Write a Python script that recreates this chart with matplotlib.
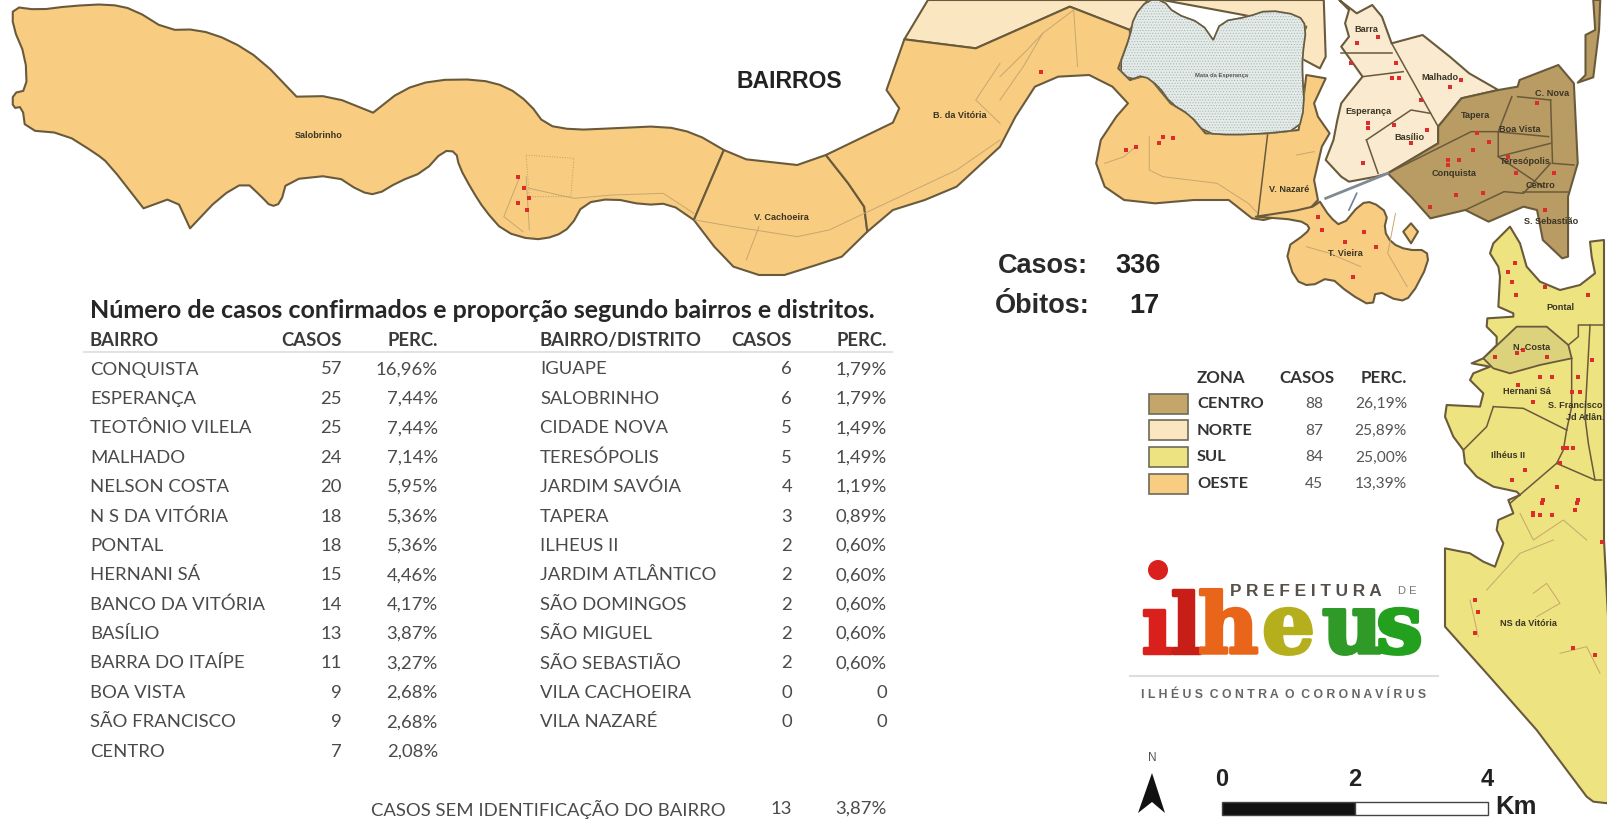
import numpy as np
from matplotlib import pyplot as plt
from matplotlib.patches import Polygon, Rectangle, Circle
import matplotlib.patheffects as pe

W, H = 1608, 819

# crop coordinates -> picture pixels
def z1(p):
    return np.array(p, float) / [2.579, 3] + [1000, 0]

def z2(p):
    return np.array(p, float) / 3 + [1120, 340]

def z3(p):
    return np.array(p, float) / [1.568, 3]

def z4(p):
    return np.array(p, float) / 3 + [1400, 210]

# rounds the corners of an outline, a doubled vertex stays sharp
def suaviza(p):
    q = np.roll(p, -1, axis=0)
    return np.column_stack([0.75 * p + 0.25 * q, 0.25 * p + 0.75 * q]).reshape(-1, 2)

# table data
bairro1 = ["CONQUISTA", "ESPERANÇA", "TEOTÔNIO VILELA", "MALHADO", "NELSON COSTA", "N S DA VITÓRIA", "PONTAL",
           "HERNANI SÁ", "BANCO DA VITÓRIA", "BASÍLIO", "BARRA DO ITAÍPE", "BOA VISTA", "SÃO FRANCISCO", "CENTRO"]
casos1 = [57, 25, 25, 24, 20, 18, 18, 15, 14, 13, 11, 9, 9, 7]
perc1 = ["16,96%", "7,44%", "7,44%", "7,14%", "5,95%", "5,36%", "5,36%", "4,46%", "4,17%", "3,87%", "3,27%",
         "2,68%", "2,68%", "2,08%"]
bairro2 = ["IGUAPE", "SALOBRINHO", "CIDADE NOVA", "TERESÓPOLIS", "JARDIM SAVÓIA", "TAPERA", "ILHEUS II",
           "JARDIM ATLÂNTICO", "SÃO DOMINGOS", "SÃO MIGUEL", "SÃO SEBASTIÃO", "VILA CACHOEIRA", "VILA NAZARÉ"]
casos2 = [6, 6, 5, 5, 4, 3, 2, 2, 2, 2, 2, 0, 0]
perc2 = ["1,79%", "1,79%", "1,49%", "1,49%", "1,19%", "0,89%", "0,60%", "0,60%", "0,60%", "0,60%", "0,60%", "0", "0"]

zonas = ["CENTRO", "NORTE", "SUL", "OESTE"]
zona_casos = [88, 87, 84, 45]
zona_perc = ["26,19%", "25,89%", "25,00%", "13,39%"]
zona_cor = ["#C4A56A", "#FBE6C2", "#EDE380", "#F8CD82"]

# map outlines
salobrinho = z3([(20, 20), (60, 30), (110, 18), (170, 12), (210, 28), (262, 90), (310, 88), (360, 120), (410, 180),
                 (465, 290), (465, 290), (520, 288), (585, 338), (585, 338), (630, 270), (680, 240), (750, 238),
                 (795, 260), (830, 310), (855, 375), (900, 390), (960, 385), (1040, 378), (1090, 400), (1135, 450),
                 (1135, 450), (1088, 660), (1088, 660), (1050, 610), (1010, 615), (960, 595), (915, 610), (895, 680),
                 (870, 710), (835, 720), (790, 695), (760, 630), (740, 570), (720, 500), (715, 455), (695, 452),
                 (665, 515), (625, 545), (590, 585), (565, 575), (525, 525), (450, 540), (440, 610), (425, 620),
                 (410, 590), (385, 545), (345, 590), (298, 685), (298, 685), (275, 590), (225, 625), (225, 625),
                 (170, 490), (150, 460), (100, 400), (40, 390), (35, 320), (20, 325), (20, 280), (42, 270),
                 (40, 170), (20, 80)])
cachoeira = z3([(1135, 450), (1170, 478), (1250, 495), (1295, 465), (1330, 550), (1355, 620), (1360, 695),
                (1320, 770), (1280, 795), (1230, 825), (1190, 825), (1150, 800), (1120, 740), (1088, 660)])
banco = np.vstack([
    z3([(1295, 465), (1400, 368), (1410, 325), (1390, 270), (1418, 118), (1530, 145)]),
    z1([(180, 20), (335, 90), (335, 110), (305, 205), (335, 240), (380, 225), (440, 310), (490, 345), (530, 400),
        (690, 400), (770, 390), (780, 320), (790, 225), (840, 235), (810, 310), (820, 350), (850, 400), (830, 440),
        (810, 540), (820, 600), (800, 625), (680, 660), (650, 655), (590, 600), (500, 600), (400, 610), (320, 600),
        (270, 560), (248, 490), (260, 420), (300, 350), (330, 310), (290, 260), (230, 225), (150, 230), (90, 260),
        (40, 350), (0, 440)]),
    z3([(1500, 560), (1450, 600), (1400, 630), (1360, 695), (1355, 620), (1330, 550)])])
vieira = z1([(660, 650), (660, 650), (800, 625), (825, 605), (825, 605), (850, 650), (880, 680), (930, 610),
             (960, 605), (1000, 640), (990, 690), (1010, 730), (1050, 750), (1100, 750), (1105, 790), (1060, 890),
             (1030, 905), (970, 870), (960, 920), (900, 880), (850, 830), (800, 860), (760, 840), (735, 745),
             (790, 700), (800, 680), (770, 660)])
ilhota = z1([(1060, 670), (1078, 695), (1060, 730), (1040, 695)])
norte_topo = np.vstack([
    z3([(1455, 0), (1418, 118), (1530, 145)]),
    z1([(180, 20), (335, 90), (380, 0), (420, 0), (835, 0), (840, 170), (825, 205), (760, 165), (790, 80), (420, 0)])])
mata = z1([(380, 0), (345, 50), (335, 110), (305, 205), (335, 240), (370, 225), (410, 260), (440, 310), (490, 345),
           (530, 400), (600, 405), (690, 400), (770, 390), (785, 320), (780, 225), (780, 170), (790, 80), (770, 45),
           (690, 30), (640, 50), (570, 65), (550, 120), (550, 120), (520, 70), (450, 40), (420, 0)])
norte = z1([(875, 0), (920, 40), (960, 15), (985, 50), (1010, 130), (1090, 105), (1160, 170), (1210, 220),
            (1285, 270), (1190, 295), (1130, 380), (1130, 430), (1000, 520), (970, 530), (900, 545), (880, 530),
            (840, 480), (860, 420), (870, 360), (880, 310), (900, 280), (935, 230), (880, 140), (900, 110),
            (890, 70), (900, 30)])
centro = z1([(1285, 270), (1335, 260), (1340, 240), (1440, 195), (1480, 250), (1490, 490), (1465, 590), (1465, 770),
             (1450, 775), (1400, 720), (1385, 630), (1350, 620), (1260, 665), (1200, 630), (1110, 655), (1060, 590),
             (1000, 520), (1130, 430), (1130, 380), (1190, 295)])
centro_faixa = z1([(1530, 0), (1535, 90), (1510, 105), (1510, 225), (1490, 248), (1530, 232), (1545, 90), (1548, 0)])
sul = np.vstack([
    z4([(330, 50), (360, 100), (380, 170), (420, 215), (480, 240), (540, 225), (585, 190), (575, 140), (570, 95),
        (612, 90), (612, 990)]),
    z2([(1464, 830), (1464, 1390), (1420, 1385), (1400, 1370), (1250, 1170), (1100, 1000), (975, 860), (975, 625),
        (1050, 640), (1090, 665), (1125, 680), (1150, 610), (1130, 570), (1135, 540), (1180, 520), (1165, 480),
        (1200, 465)]),
    z4([(350, 845), (280, 830), (230, 800), (195, 760), (190, 720), (160, 680), (135, 620), (140, 585), (240, 590),
        (250, 550), (210, 510), (220, 490), (270, 470), (215, 460), (250, 445), (290, 405), (290, 380), (260, 350),
        (262, 325), (340, 320), (340, 310), (295, 290), (300, 200), (295, 170), (270, 130), (280, 100)])])
nelson = z4([(250, 445), (350, 350), (440, 350), (505, 405), (515, 445), (420, 465), (330, 490), (280, 475)])

divisas = [
    z1([(690, 405), (665, 650)]),
    z1([(1000, 520), (1215, 395), (1280, 395), (1415, 410)]),
    z1([(1320, 290), (1285, 395), (1285, 470), (1400, 560)]),
    z1([(1420, 300), (1425, 490), (1480, 495)]),
    z1([(1335, 290), (1420, 300)]),
    z1([(1285, 470), (1420, 430)]),
    z1([(1420, 490), (1350, 580), (1300, 575), (1200, 630)]),
    z1([(1465, 575), (1350, 575)]),
    z1([(1010, 130), (1130, 380)]),
    z1([(880, 160), (1010, 160)]),
    z1([(935, 230), (1040, 215)]),
    z1([(945, 420), (1060, 330), (1110, 340)]),
    z1([(945, 420), (975, 520)]),
    z4([(505, 405), (535, 380), (535, 345), (610, 345)]),
    z4([(515, 445), (515, 590), (500, 660)]),
    z4([(280, 590), (370, 595), (500, 660)]),
    z4([(190, 720), (260, 650), (280, 590)]),
    z4([(500, 660), (490, 720), (470, 760), (330, 880)]),
    z4([(470, 760), (585, 810), (605, 810)]),
    z4([(555, 620), (565, 700), (585, 810)]),
    z4([(570, 345), (555, 620)]),
]
estradas = [
    z3([(1090, 660), (1150, 680), (1250, 710), (1300, 690), (1400, 600), (1500, 510), (1568, 420)]),
    z3([(830, 565), (900, 595), (960, 585), (1040, 580), (1088, 640)]),
    z3([(1190, 680), (1170, 780)]),
    z3([(815, 530), (790, 650), (820, 695)]),
    z3([(825, 530), (830, 690)]),
    z3([(1568, 190), (1530, 300), (1568, 370)]),
    z1([(385, 410), (385, 510), (420, 530), (560, 550), (640, 610), (665, 640)]),
    z1([(0, 230), (70, 150), (110, 100), (190, 30), (200, 200)]),
    z1([(110, 100), (60, 200), (0, 300)]),
    z1([(270, 490), (320, 470), (350, 440)]),
    z1([(765, 465), (810, 455)]),
    z1([(1020, 640), (1000, 760), (1050, 860)]),
    z1([(790, 740), (850, 760), (930, 800)]),
    z2([(1100, 750), (1200, 640), (1300, 600)]),
    z2([(1050, 780), (1075, 890)]),
    z2([(1240, 760), (1280, 730), (1320, 790), (1250, 830)]),
    z2([(1320, 940), (1400, 920), (1440, 1000)]),
    z2([(1200, 520), (1240, 600), (1330, 540), (1400, 600)]),
]
pontilhado = z3([(825, 465), (900, 475), (895, 590), (830, 590), (825, 465)])

casos_pts = np.vstack([
    z3([(812, 530), (822, 565), (830, 593), (812, 610), (827, 630)]),
    z1([(105, 215), (325, 450), (350, 440), (420, 410), (410, 430), (445, 415), (905, 190), (950, 370), (950, 385),
        (1020, 190), (1010, 235), (1030, 235), (1160, 260), (1190, 240), (1085, 300), (1100, 390), (1060, 430),
        (1015, 375), (935, 490), (920, 130), (975, 110), (1155, 480), (1155, 495), (1245, 580), (1175, 585),
        (1110, 620), (1230, 400), (1310, 470), (1330, 520), (1385, 310), (1405, 630), (1430, 520), (890, 725),
        (910, 830), (970, 740), (820, 650), (940, 695), (830, 690), (1220, 450), (1260, 425), (1185, 480)]),
    z4([(345, 160), (325, 185), (335, 215), (348, 255), (435, 230), (565, 255), (370, 420), (350, 430), (285, 440),
        (440, 440), (455, 500), (420, 500), (355, 525), (400, 575), (515, 545), (540, 545), (535, 500), (575, 450),
        (490, 715), (520, 715), (480, 760), (430, 870), (420, 915), (400, 915), (455, 915), (470, 830), (525, 900),
        (535, 870), (375, 780), (335, 810)]),
    z2([(1065, 780), (1075, 815), (1065, 880), (1360, 925), (1425, 945), (1360, 325), (1340, 325), (1265, 490),
        (1240, 520), (1295, 525), (1370, 490), (1445, 605)]),
])

# place labels: text, x, y
rotulos = [("Salobrinho", 319, 135), ("B. da Vitória", 960, 115), ("V. Cachoeira", 781, 217),
           ("V. Nazaré", 1289, 190), ("T. Vieira", 1345, 254), ("Barra", 1366, 29), ("Malhado", 1440, 78),
           ("Esperança", 1368, 111), ("Basílio", 1409, 137), ("Tapera", 1476, 115), ("C. Nova", 1552, 94),
           ("Boa Vista", 1520, 129), ("Teresópolis", 1525, 161), ("Conquista", 1454, 173), ("Centro", 1541, 186),
           ("S. Sebastião", 1551, 222), ("Pontal", 1560, 307), ("N. Costa", 1532, 347), ("Hernani Sá", 1527, 392),
           ("S. Francisco", 1575, 405), ("Jd Atlân.", 1585, 418), ("Ilhéus II", 1508, 456),
           ("NS da Vitória", 1528, 623)]

# logo letters: letter, x, colour
logo = [("ı", 1141, "#D9201C"), ("l", 1170, "#C81E18"), ("h", 1198, "#E8651A"), ("e", 1262, "#B5AF1E"),
        ("u", 1322, "#2F9A28"), ("s", 1376, "#22A01E")]

plt.rcParams['font.family'] = ['Lato', 'DejaVu Sans']
plt.rcParams['hatch.linewidth'] = 0.5
fig = plt.figure(figsize=(W / 100, H / 100), dpi=100)
ax = fig.add_axes([0, 0, 1, 1])
ax.set_xlim(0, W)
ax.set_ylim(H, 0)
ax.axis("off")

OUT = "#6A5A3C"
OESTE, NORTE, SUL, CENTRO = zona_cor[3], zona_cor[1], zona_cor[2], "#B99C64"
for pts, cor in [(norte_topo, NORTE), (suaviza(salobrinho), OESTE), (cachoeira, OESTE), (banco, OESTE),
                 (suaviza(vieira), OESTE), (ilhota, OESTE), (norte, "#FAEBD0"), (centro, CENTRO),
                 (centro_faixa, CENTRO), (sul, SUL)]:
    ax.add_patch(Polygon(pts, closed=True, fc=cor, ec=OUT, lw=1.5, joinstyle="round", zorder=2))
ax.add_patch(Polygon(nelson, closed=True, fc="#DDD27C", ec=OUT, lw=1.3, zorder=2.5))
ax.add_patch(Polygon(suaviza(mata), closed=True, fc="#E4ECE9", ec="#AEB8B3", hatch="......", lw=1.2, zorder=3))
ax.add_patch(Polygon(suaviza(mata), closed=True, fc="none", ec=OUT, lw=1.2, zorder=3.1))

for linha in estradas:
    ax.plot(linha[:, 0], linha[:, 1], color="#C7A670", lw=0.7, zorder=3.2)
ax.plot(pontilhado[:, 0], pontilhado[:, 1], color="#C09A68", lw=0.7, ls=":", zorder=3.2)
for linha in divisas:
    ax.plot(linha[:, 0], linha[:, 1], color=OUT, lw=1.1, zorder=3.3)
canal = z1([(840, 595), (1000, 520)])
ax.plot(canal[:, 0], canal[:, 1], color="#7F8B92", lw=2, zorder=3.3)
ponte = z1([(900, 630), (920, 580)])
ax.plot(ponte[:, 0], ponte[:, 1], color="#6F7F96", lw=1.2, zorder=3.3)
ax.scatter(casos_pts[:, 0], casos_pts[:, 1], s=12, color="#DC2C2C", marker="s", linewidths=0, zorder=4)

for nome, x, y in rotulos:
    ax.text(x, y, nome, fontsize=6.6, fontweight="bold", color="#3A3524", ha="center", va="center",
            family="Liberation Sans", zorder=5, clip_on=True)
ax.text(1222, 75, "Mata da Esperança", fontsize=4.2, fontweight="bold", color="#555", ha="center", va="center",
        family="Liberation Sans", zorder=5)

ax.text(789, 81, "BAIRROS", fontsize=16.6, fontweight="bold", color="#222", ha="center", va="center",
        family="Liberation Sans")
ax.text(998, 266, "Casos:", fontsize=19.5, fontweight="bold", color="#2A2A2A", va="center", family="Liberation Sans")
ax.text(1161, 266, "336", fontsize=19.5, fontweight="bold", color="#222", ha="right", va="center",
        family="Liberation Sans")
ax.text(995, 306, "Óbitos:", fontsize=19.5, fontweight="bold", color="#2A2A2A", va="center",
        family="Liberation Sans")
ax.text(1160, 306, "17", fontsize=19.5, fontweight="bold", color="#222", ha="right", va="center",
        family="Liberation Sans")

# tables
ax.text(90, 310, "Número de casos confirmados e proporção segundo bairros e distritos.", fontsize=18,
        fontweight="bold", color="#262626", va="center")
TXT = "#4A4A4A"
HEAD = "#3A3A3A"
for x, s, ha in [(90, "BAIRRO", "left"), (342, "CASOS", "right"), (438, "PERC.", "right"),
                 (540, "BAIRRO/DISTRITO", "left"), (792, "CASOS", "right"), (887, "PERC.", "right")]:
    ax.text(x, 340.5, s, fontsize=13.3, fontweight="bold", color=HEAD, ha=ha, va="center")
ax.plot([84, 892], [352, 352], color="#DDDDDD", lw=1.2)
ROW0, DY = 369.5, 29.4
for i, (n, c, p) in enumerate(zip(bairro1, casos1, perc1)):
    y = ROW0 + i * DY
    ax.text(90, y, n, fontsize=13.3, color=TXT, va="center")
    ax.text(342, y, str(c), fontsize=13.3, color=TXT, ha="right", va="center")
    ax.text(438, y, p, fontsize=13.3, color=TXT, ha="right", va="center")
for i, (n, c, p) in enumerate(zip(bairro2, casos2, perc2)):
    y = ROW0 + i * DY
    ax.text(540, y, n, fontsize=13.3, color=TXT, va="center")
    ax.text(792, y, str(c), fontsize=13.3, color=TXT, ha="right", va="center")
    ax.text(887, y, p, fontsize=13.3, color=TXT, ha="right", va="center")
ax.text(371, 809, "CASOS SEM IDENTIFICAÇÃO DO BAIRRO", fontsize=13.3, color=TXT, va="center")
ax.text(792, 809, "13", fontsize=13.3, color=TXT, ha="right", va="center")
ax.text(887, 809, "3,87%", fontsize=13.3, color=TXT, ha="right", va="center")

# zone legend
for x, s, ha in [(1197, "ZONA", "left"), (1335, "CASOS", "right"), (1407, "PERC.", "right")]:
    ax.text(x, 378, s, fontsize=12.2, fontweight="bold", color="#333", ha=ha, va="center")
for i, (z, c, p, cor) in enumerate(zip(zonas, zona_casos, zona_perc, zona_cor)):
    y = 403.5 + i * 26.7
    ax.add_patch(Rectangle((1149, y - 10), 39, 20, fc=cor, ec="#6E6A58", lw=1.2))
    ax.text(1197, y + 0.5, z, fontsize=11.8, fontweight="bold", color="#333", va="center")
    ax.text(1323, y + 0.5, str(c), fontsize=11.2, color="#555", ha="right", va="center")
    ax.text(1407, y + 0.5, p, fontsize=11.2, color="#555", ha="right", va="center")

# logo
ax.add_patch(Circle((1158, 570), 10, fc="#D9201C", ec="none"))
for letra, x, cor in logo:
    ax.text(x, 653, letra, fontsize=60, fontweight="bold", family="DejaVu Serif", color=cor, va="baseline",
            path_effects=[pe.withStroke(linewidth=2.5, foreground=cor)])
ax.text(1230, 591, "P R E F E I T U R A", fontsize=12.4, fontweight="bold", color="#55504A", va="center",
        family="Liberation Sans")
ax.text(1398, 591, "D E", fontsize=8, color="#777", va="center", family="Liberation Sans")
ax.plot([1130, 1438], [676, 676], color="#DDDDDD", lw=1.5)
ax.text(1284, 695, "I L H É U S  C O N T R A  O  C O R O N A V Í R U S", fontsize=8.8, fontweight="bold", color="#666",
        ha="center", va="center", family="Liberation Sans")

# north arrow and scale bar
ax.text(1152, 758, "N", fontsize=8.5, color="#555", ha="center", va="center", family="Liberation Sans")
ax.add_patch(Polygon([(1152, 773), (1165, 813), (1152, 802), (1138, 813)], closed=True, fc="#111", ec="none"))
ax.add_patch(Rectangle((1222, 802), 133, 13, fc="#111", ec="#444", lw=1))
ax.add_patch(Rectangle((1355, 802), 133, 13, fc="white", ec="#444", lw=1))
for x, s in [(1222, "0"), (1355, "2"), (1487, "4")]:
    ax.text(x, 780, s, fontsize=17, fontweight="bold", color="#222", ha="center", va="center",
            family="Liberation Sans")
ax.text(1495, 807, "Km", fontsize=18.5, fontweight="bold", color="#222", va="center", family="Liberation Sans")

fig.savefig("out.png", dpi=100)
